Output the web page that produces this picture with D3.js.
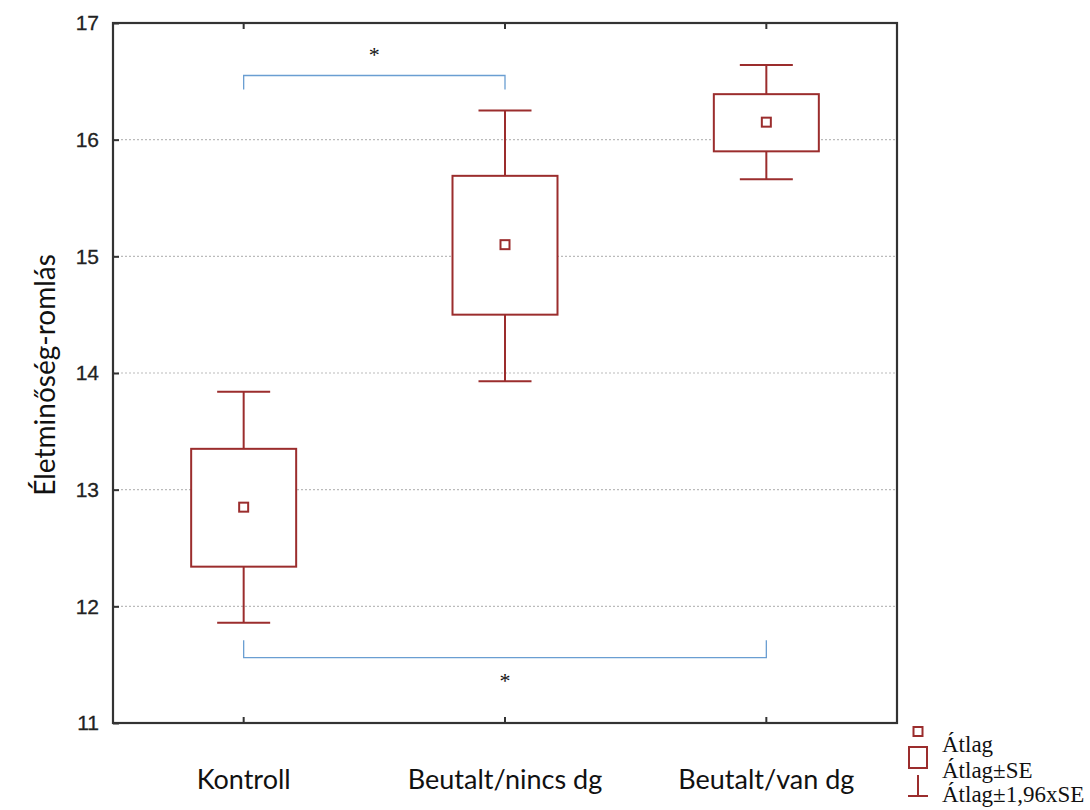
<!DOCTYPE html>
<html><head><meta charset="utf-8">
<script src="https://cdn.jsdelivr.net/npm/d3@7"></script>
<style>body{margin:0;background:#fff}svg{display:block}</style>
</head><body>
<svg id="c" width="1090" height="810"></svg>
<script>
const categories = ["Kontroll", "Beutalt/nincs dg", "Beutalt/van dg"];
const means = [12.85, 15.10, 16.15];
const seLow = [12.34, 14.50, 15.90];
const seHigh = [13.35, 15.69, 16.39];
const ciLow = [11.86, 13.93, 15.66];
const ciHigh = [13.84, 16.25, 16.64];
const yTicks = [11, 12, 13, 14, 15, 16, 17];
const gridTicks = [12, 13, 14, 15, 16];
const brackets = [
  {from: 0, to: 1, y: 16.55, leg: 16.43, starY: 16.71, label: "*"},
  {from: 0, to: 2, y: 11.56, leg: 11.71, starY: 11.34, label: "*"}
];
const legendItems = ["Átlag", "Átlag±SE", "Átlag±1,96xSE"];

const svg = d3.select("#c");
const L = 113, R = 897, T = 23, B = 723;
const x = d3.scaleBand().domain(categories).range([L, R]);
const y = d3.scaleLinear().domain([11, 17]).range([B, T]);
const red = "#9b2d2d";
const cx = i => x(categories[i]) + x.bandwidth() / 2;

// grid
svg.append("g").selectAll("line").data(gridTicks).join("line")
  .attr("x1", L).attr("x2", R).attr("y1", d => y(d)).attr("y2", d => y(d))
  .attr("stroke", "#bbb").attr("stroke-width", 1.2).attr("stroke-dasharray", "2,2");

// y axis labels & ticks
const yAxis = d3.axisLeft(y).tickValues(yTicks).tickSize(-6).tickPadding(14).tickFormat(d3.format("d"));
const ga = svg.append("g").attr("transform", `translate(${L},0)`).call(yAxis);
ga.select(".domain").remove();
ga.selectAll("line").attr("stroke", "#333").attr("stroke-width", 2);
ga.selectAll("text").attr("font-family", "Liberation Sans, Arial").attr("font-size", 21)
  .attr("fill", "#222").attr("stroke", "#222").attr("stroke-width", 0.3);

// x ticks top and bottom (inside)
const xTop = d3.axisTop(x).tickSize(-6).tickFormat("");
const gt = svg.append("g").attr("transform", `translate(0,${T})`).call(xTop);
gt.select(".domain").remove();
gt.selectAll("line").attr("stroke", "#333").attr("stroke-width", 2);
const xBot = d3.axisBottom(x).tickSize(-6).tickPadding(0);
const gb = svg.append("g").attr("transform", `translate(0,${B})`).call(xBot);
gb.select(".domain").remove();
gb.selectAll("line").attr("stroke", "#333").attr("stroke-width", 2);
gb.selectAll("text").attr("y", 66).attr("dy", 0).attr("font-family", "Lato, Open Sans, sans-serif")
  .attr("font-size", 27).attr("fill", "#111");

// frame
svg.append("rect").attr("x", L).attr("y", T).attr("width", R - L).attr("height", B - T)
  .attr("fill", "none").attr("stroke", "#333").attr("stroke-width", 2.2);

// y title
svg.append("text").attr("transform", `translate(55,${(T + B) / 2 + 2}) rotate(-90)`)
  .attr("text-anchor", "middle").attr("font-family", "Lato, Open Sans, sans-serif")
  .attr("font-size", 28).attr("fill", "#111").text("Életminőség-romlás");

// boxes
const bw = 105, cw = 53, ms = 9;
const g = svg.append("g").attr("stroke", red).attr("stroke-width", 2).attr("fill", "none");
categories.forEach((c, i) => {
  const X = cx(i);
  g.append("line").attr("x1", X).attr("x2", X).attr("y1", y(ciHigh[i])).attr("y2", y(seHigh[i]));
  g.append("line").attr("x1", X).attr("x2", X).attr("y1", y(seLow[i])).attr("y2", y(ciLow[i]));
  g.append("line").attr("x1", X - cw / 2).attr("x2", X + cw / 2).attr("y1", y(ciHigh[i])).attr("y2", y(ciHigh[i]));
  g.append("line").attr("x1", X - cw / 2).attr("x2", X + cw / 2).attr("y1", y(ciLow[i])).attr("y2", y(ciLow[i]));
  g.append("rect").attr("x", X - bw / 2).attr("y", y(seHigh[i])).attr("width", bw).attr("height", y(seLow[i]) - y(seHigh[i])).attr("fill", "#fff");
  g.append("rect").attr("x", X - ms / 2).attr("y", y(means[i]) - ms / 2).attr("width", ms).attr("height", ms);
});

// brackets
const bl = "#6a9ed2";
brackets.forEach(b => {
  const x1 = cx(b.from), x2 = cx(b.to);
  svg.append("path").attr("d", `M${x1},${y(b.leg)}V${y(b.y)}H${x2}V${y(b.leg)}`)
    .attr("fill", "none").attr("stroke", bl).attr("stroke-width", 1.3);
  svg.append("text").attr("x", (x1 + x2) / 2).attr("y", y(b.starY)).attr("text-anchor", "middle")
    .attr("dominant-baseline", "middle").attr("font-family", "Liberation Serif, serif").attr("font-size", 22)
    .attr("fill", "#111").text(b.label);
});

// legend
const lx = 918, ly = [752, 778, 802];
const lg = svg.append("g").attr("stroke", red).attr("stroke-width", 2).attr("fill", "none");
lg.append("rect").attr("x", lx - 4.5).attr("y", 727).attr("width", 9).attr("height", 9);
lg.append("rect").attr("x", lx - 9).attr("y", 747).attr("width", 18).attr("height", 21);
lg.append("line").attr("x1", lx).attr("x2", lx).attr("y1", 775).attr("y2", 797);
lg.append("line").attr("x1", lx - 10).attr("x2", lx + 10).attr("y1", 796).attr("y2", 796);
svg.append("g").selectAll("text").data(legendItems).join("text")
  .attr("x", 942).attr("y", (d, i) => ly[i])
  .attr("font-family", "Liberation Serif, Times New Roman, serif").attr("font-size", 23).attr("fill", "#111")
  .text(d => d);
</script>
</body></html>
